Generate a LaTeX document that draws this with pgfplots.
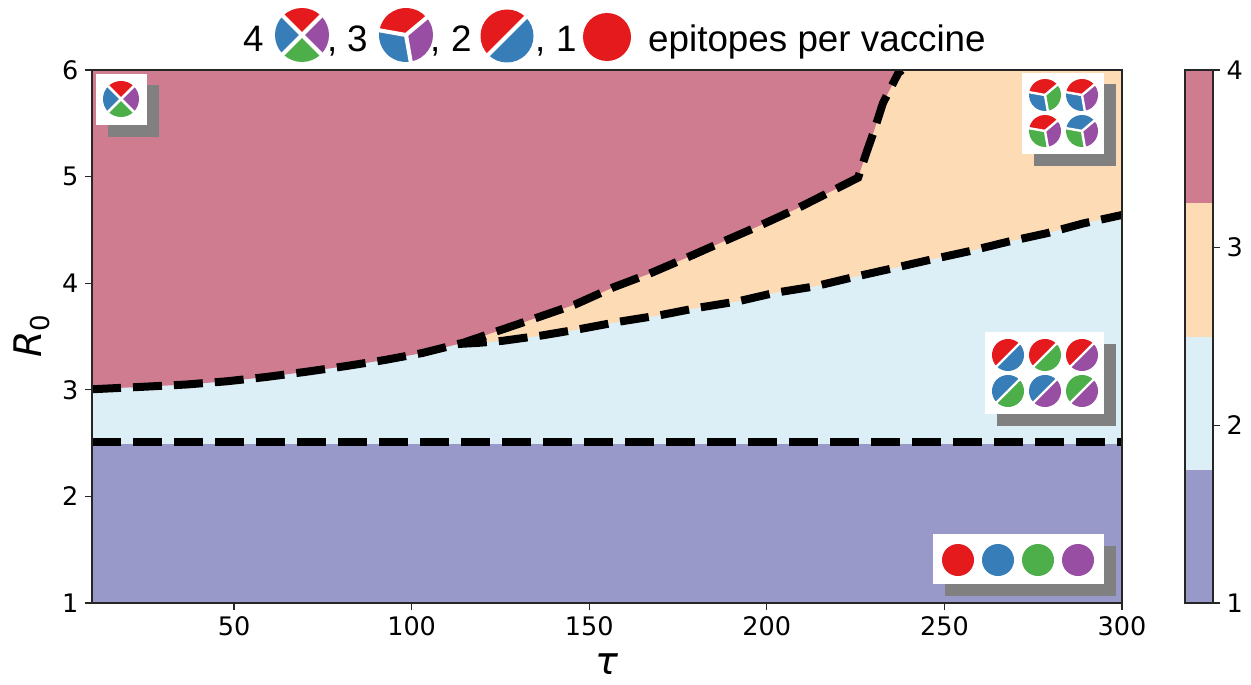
\documentclass[border=0pt]{standalone}
\usepackage{pgfplots}
\pgfplotsset{compat=1.18}
\usepackage{fontspec}
\setmainfont{DejaVu Sans}
\newfontfamily\titlefont{Liberation Sans}
\definecolor{cPurple}{HTML}{9999C9}
\definecolor{cLight}{HTML}{DCEFF6}
\definecolor{cPeach}{HTML}{FDDBB4}
\definecolor{cPink}{HTML}{D07C90}
\definecolor{R}{HTML}{E41A1C}
\definecolor{B}{HTML}{377EB8}
\definecolor{G}{HTML}{4DAF4A}
\definecolor{P}{HTML}{984EA3}
\pgfplotstableread{
x y
10 3.005
25.4 3.03
36.7 3.05
48 3.08
59 3.12
70.5 3.17
81 3.22
92.5 3.28
103 3.345
114.4 3.44
125 3.56
135.6 3.68
146 3.80
156.7 3.96
167 4.09
177.5 4.24
187.7 4.39
198 4.54
208.5 4.70
218.6 4.87
225.7 4.99
228 5.22
230 5.41
232.7 5.69
237 5.97
238 6.00
}\uppercurve
\pgfplotstableread{
x y
113 3.43
118.7 3.44
125.7 3.46
136.7 3.51
147.4 3.57
158.6 3.64
170 3.70
180.7 3.77
191.9 3.83
202.3 3.91
213.5 3.97
224.8 4.06
235.5 4.14
246 4.22
257 4.30
268 4.39
279 4.47
289 4.56
300 4.64
}\lowercurve
% pie glyphs
\newcommand{\sect}[4]{\fill[#4] (0,0) -- (#1:#3) arc[start angle=#1,end angle=#2,radius=#3] -- cycle;}
\newcommand{\gap}[2]{\draw[white,line width=0.15*#2 pt] (0,0) -- (#1:1.08*#2);}
\newcommand{\pieone}[4]{\fill[#4] (#1,#2) circle[radius=#3];}
\newcommand{\pietwo}[5]{\begin{scope}[shift={(#1,#2)},y=1pt]
\sect{45}{225}{#3}{#4}\sect{225}{405}{#3}{#5}\gap{45}{#3}\gap{225}{#3}\end{scope}}
\newcommand{\piethree}[6]{\begin{scope}[shift={(#1,#2)},y=1pt]
\sect{40}{170}{#3}{#4}\sect{170}{280}{#3}{#5}\sect{280}{400}{#3}{#6}\gap{40}{#3}\gap{170}{#3}\gap{280}{#3}\end{scope}}
\newcommand{\piefour}[7]{\begin{scope}[shift={(#1,#2)},y=1pt]
\sect{45}{135}{#3}{#4}\sect{135}{225}{#3}{#5}\sect{225}{315}{#3}{#6}\sect{315}{405}{#3}{#7}\gap{45}{#3}\gap{135}{#3}\gap{225}{#3}\gap{315}{#3}\end{scope}}
\newcommand{\inset}[4]{\fill[black!50] (#1+11.5,#2+11.5) rectangle (#3+11.5,#4+11.5);\fill[white] (#1,#2) rectangle (#3,#4);}
\begin{document}
\begin{tikzpicture}[x=1pt,y=-1pt]
\path[use as bounding box] (0,0) rectangle (1251,685);
\begin{axis}[
  at={(92pt,-603pt)}, anchor=south west,
  scale only axis, width=1030pt, height=533pt,
  xmin=10, xmax=300, ymin=1, ymax=6,
  xtick={50,100,150,200,250,300}, ytick={1,2,3,4,5,6},
  tick align=outside, tick pos=left,
  major tick length=7pt,
  tick style={black!85,line width=1.3pt},
  axis line style={black!85,line width=1.5pt},
  tick label style={font=\fontsize{25.5}{28}\selectfont,/pgf/number format/assume math mode=true},
  xticklabel style={yshift=-3pt}, yticklabel style={xshift=-3pt},
  xlabel={\textit{τ}}, ylabel={\textit{R}\raisebox{-0.2em}{\fontsize{26}{28}\selectfont 0}},
  label style={font=\fontsize{38}{42}\selectfont},
  xlabel style={yshift=-14pt,inner sep=0pt}, ylabel style={yshift=6pt},
  axis on top,
]
\addplot[fill=cPurple,draw=none] coordinates {(10,1) (300,1) (300,6) (10,6)} -- cycle;
\addplot[fill=cLight,draw=none] coordinates {(10,2.49) (300,2.49) (300,6) (10,6)} -- cycle;
\addplot[fill=cPeach,draw=none] coordinates {(113,3.43) (118.7,3.44) (125.7,3.46) (136.7,3.51) (147.4,3.57) (158.6,3.64) (170,3.70) (180.7,3.77) (191.9,3.83) (202.3,3.91) (213.5,3.97) (224.8,4.06) (235.5,4.14) (246,4.22) (257,4.30) (268,4.39) (279,4.47) (289,4.56) (300,4.64) (300,6) (238,6)} -- cycle;
\addplot[fill=cPink,draw=none] coordinates {(10,3.005) (25.4,3.03) (36.7,3.05) (48,3.08) (59,3.12) (70.5,3.17) (81,3.22) (92.5,3.28) (103,3.345) (114.4,3.44) (125,3.56) (135.6,3.68) (146,3.80) (156.7,3.96) (167,4.09) (177.5,4.24) (187.7,4.39) (198,4.54) (208.5,4.70) (218.6,4.87) (225.7,4.99) (228,5.22) (230,5.41) (232.7,5.69) (237,5.97) (238,6.00) (10,6)} -- cycle;
\addplot[black,line width=8pt,dash pattern=on 29pt off 12pt] coordinates {(10,2.51) (300,2.51)};
\addplot[black,line width=8pt,dash pattern=on 29pt off 12pt] table {\uppercurve};
\addplot[black,line width=8pt,dash pattern=on 29pt off 12pt] table {\lowercurve};
\end{axis}
\begin{axis}[
  at={(1185pt,-603pt)}, anchor=south west,
  scale only axis, width=28pt, height=533pt,
  xmin=0, xmax=1, ymin=1, ymax=4,
  xtick=\empty, ytick={1,2,3,4},
  tick align=outside, yticklabel pos=right, ytick pos=right,
  major tick length=7pt,
  tick style={black!85,line width=1.3pt},
  axis line style={black!85,line width=1.5pt},
  tick label style={font=\fontsize{25.5}{28}\selectfont,/pgf/number format/assume math mode=true},
  yticklabel style={xshift=3pt},
  axis on top,
]
\addplot[fill=cPurple,draw=none] coordinates {(0,1) (1,1) (1,1.75) (0,1.75)} -- cycle;
\addplot[fill=cLight,draw=none] coordinates {(0,1.75) (1,1.75) (1,2.5) (0,2.5)} -- cycle;
\addplot[fill=cPeach,draw=none] coordinates {(0,2.5) (1,2.5) (1,3.25) (0,3.25)} -- cycle;
\addplot[fill=cPink,draw=none] coordinates {(0,3.25) (1,3.25) (1,4) (0,4)} -- cycle;
\end{axis}
% title
\begin{scope}[every node/.style={anchor=base west,inner sep=0pt,font=\fontsize{36.8}{40}\titlefont}]
\node at (243,52) {4};
\node at (327,52) {,};
\node at (347,52) {3};
\node at (430,52) {,};
\node at (451,52) {2};
\node at (535,52) {,};
\node at (556,52) {1};
\node at (648,52) {epitopes per vaccine};
\end{scope}
\piefour{302}{35}{27}{R}{B}{G}{P}
\piethree{406}{35}{27}{R}{B}{P}
\pietwo{507}{36}{26.5}{R}{B}
\pieone{607}{37}{24}{R}
% insets
\inset{96}{74}{147}{125}
\piefour{121}{99}{18}{R}{B}{G}{P}
\inset{1022}{73}{1104}{154}
\piethree{1045}{95}{16}{R}{B}{G}
\piethree{1082}{95}{16}{R}{B}{P}
\piethree{1045}{131}{16}{R}{G}{P}
\piethree{1082}{131}{16}{B}{G}{P}
\inset{985}{332}{1104}{414}
\pietwo{1008}{355}{16}{R}{B}
\pietwo{1045}{355}{16}{R}{G}
\pietwo{1082}{355}{16}{R}{P}
\pietwo{1008}{391}{16}{B}{G}
\pietwo{1045}{391}{16}{B}{P}
\pietwo{1082}{391}{16}{G}{P}
\inset{933}{534}{1104}{584}
\pieone{958}{560}{16}{R}
\pieone{998}{560}{16}{B}
\pieone{1038}{560}{16}{G}
\pieone{1078}{560}{16}{P}
\end{tikzpicture}
\end{document}
